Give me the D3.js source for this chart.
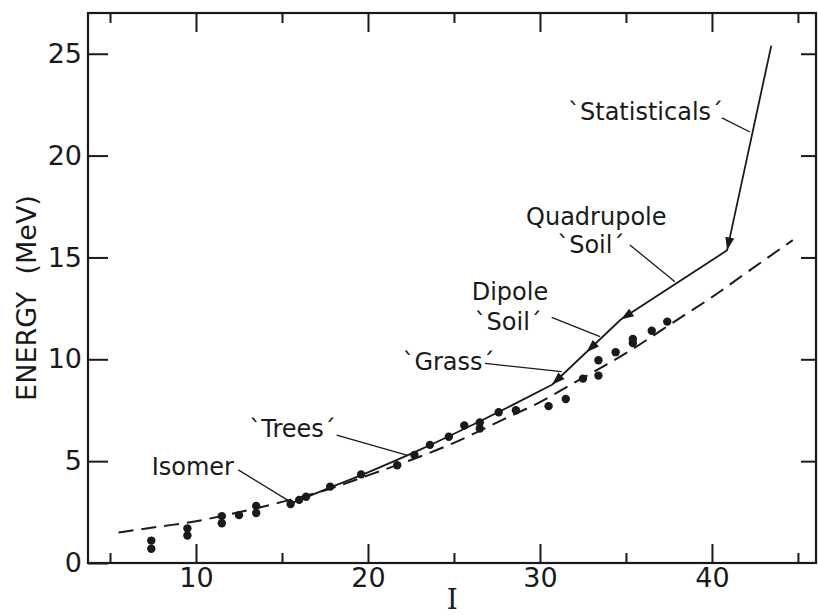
<!DOCTYPE html>
<html>
<head>
<meta charset="utf-8">
<script src="https://cdn.jsdelivr.net/npm/d3@7"></script>
<style>
body { margin: 0; background: #fff; }
text { font-family: "DejaVu Sans", sans-serif; fill: #1a1a1a; }
</style>
</head>
<body>
<svg width="818" height="615"></svg>
<script>
// axis ticks
var xMajor = [10, 20, 30, 40],
    xMinor = [5, 15, 25, 35, 45],
    yTicks = [0, 5, 10, 15, 20, 25];

// observed levels (dots)
var levelSpin   = [7.4, 7.4, 9.5, 9.5, 11.5, 11.5, 12.5, 13.5, 13.5, 15.5, 16.0, 16.4, 17.8, 19.6, 21.7, 22.7, 23.6, 24.7, 25.6, 26.5, 26.5, 27.6, 28.6, 30.5, 31.5, 32.5, 33.4, 33.4, 34.4, 35.4, 35.4, 36.5, 37.4];
var levelEnergy = [0.7, 1.1, 1.35, 1.7, 1.95, 2.3, 2.35, 2.45, 2.8, 2.9, 3.1, 3.25, 3.75, 4.35, 4.8, 5.3, 5.8, 6.2, 6.75, 6.9, 6.6, 7.4, 7.5, 7.7, 8.05, 9.05, 9.2, 9.95, 10.35, 10.8, 11.0, 11.4, 11.85];

// dashed reference curve
var dashSpin   = [5.5, 8, 10, 12, 15, 18, 20, 22, 25, 28, 30, 32, 35, 38, 40, 42, 44.7];
var dashEnergy = [1.5, 1.8, 2.05, 2.4, 3.0, 3.7, 4.3, 4.9, 5.9, 7.1, 7.9, 8.85, 10.3, 11.95, 13.05, 14.25, 15.85];

// solid yrast path, isomer up to the grass region
var yrastSpin   = [15.5, 17.5, 20, 23, 26, 28.5, 30.7];
var yrastEnergy = [2.92, 3.6, 4.45, 5.55, 6.75, 7.8, 8.75];

// decay path: statisticals -> quadrupole soil -> dipole soil -> grass
var decaySpin   = [43.45, 40.88, 34.7, 30.7];
var decayEnergy = [25.4, 15.35, 11.95, 8.75];
var arrowAt     = [1, 2, 2.5, 3];   // position along the decay path

// annotations
var labelText   = ["`Statisticals\u00b4", "Quadrupole", "`Soil\u00b4", "Dipole", "`Soil\u00b4", "`Grass\u00b4", "`Trees\u00b4", "Isomer"];
var labelSpin   = [31.63, 29.19, 31.0, 26.03, 26.2, 22.0, 13.1, 7.42];
var labelEnergy = [21.75, 16.59, 15.22, 12.91, 11.44, 9.47, 6.2, 4.32];

var leaderFromSpin   = [40.58, 35.23, 30.68, 26.8, 18.18, 12.46];
var leaderFromEnergy = [21.85, 15.61, 12.06, 9.8, 6.28, 4.57];
var leaderToSpin     = [42.21, 37.85, 33.49, 31.26, 22.25, 15.37];
var leaderToEnergy   = [21.16, 13.81, 11.11, 9.39, 5.3, 3.06];

var svg = d3.select("svg"),
    ink = "#1a1a1a";

var x = d3.scaleLinear().domain([3.72, 46.05]).range([88, 816]);
var y = d3.scaleLinear().domain([0, 27]).range([563, 13]);

// axes, ticks inward on all four sides
function clean(g) { g.select(".domain").remove(); g.selectAll("line").attr("stroke", ink).attr("stroke-width", 2); }

svg.append("g").attr("transform", "translate(0," + y(0) + ")")
   .call(d3.axisBottom(x).tickValues(xMajor).tickSize(-19).tickPadding(5).tickFormat(d3.format("d")))
   .call(clean)
   .selectAll("text").attr("font-size", 27).attr("font-family", "DejaVu Sans").attr("fill", ink);
svg.append("g").attr("transform", "translate(0," + y(0) + ")")
   .call(d3.axisBottom(x).tickValues(xMinor).tickSize(-10).tickFormat(""))
   .call(clean);
svg.append("g").attr("transform", "translate(0," + y(27) + ")")
   .call(d3.axisTop(x).tickValues(xMajor).tickSize(-19).tickFormat(""))
   .call(clean);
svg.append("g").attr("transform", "translate(0," + y(27) + ")")
   .call(d3.axisTop(x).tickValues(xMinor).tickSize(-10).tickFormat(""))
   .call(clean);
svg.append("g").attr("transform", "translate(" + x.range()[0] + ",0)")
   .call(d3.axisLeft(y).tickValues(yTicks).tickSize(-20).tickPadding(6).tickFormat(d3.format("d")))
   .call(clean)
   .selectAll("text").attr("font-size", 27).attr("font-family", "DejaVu Sans").attr("fill", ink);
svg.append("g").attr("transform", "translate(" + x.range()[1] + ",0)")
   .call(d3.axisRight(y).tickValues(yTicks.slice(1)).tickSize(-15).tickFormat(""))
   .call(clean);

svg.append("rect")
   .attr("x", x.range()[0]).attr("y", y.range()[1])
   .attr("width", x.range()[1] - x.range()[0]).attr("height", y.range()[0] - y.range()[1])
   .attr("fill", "none").attr("stroke", ink).attr("stroke-width", 2.2);

// axis titles
svg.append("text")
   .attr("transform", "translate(36," + ((y(0) + y(27)) / 2 + 10) + ")rotate(-90)")
   .attr("text-anchor", "middle")
   .attr("font-size", 27)
   .style("white-space", "pre")
   .text("ENERGY  (MeV)");

svg.append("text")
   .attr("x", x(24.9)).attr("y", 609)
   .attr("text-anchor", "middle")
   .attr("font-size", 28)
   .style("font-family", "DejaVu Serif")
   .text("I");

// dashed curve
svg.append("path")
   .datum(d3.zip(dashSpin, dashEnergy))
   .attr("fill", "none").attr("stroke", ink).attr("stroke-width", 2)
   .attr("stroke-dasharray", "15,8")
   .attr("d", d3.line().x(function(d) { return x(d[0]); }).y(function(d) { return y(d[1]); }).curve(d3.curveMonotoneX));

// yrast solid line
svg.append("path")
   .datum(d3.zip(yrastSpin, yrastEnergy))
   .attr("fill", "none").attr("stroke", ink).attr("stroke-width", 1.8)
   .attr("d", d3.line().x(function(d) { return x(d[0]); }).y(function(d) { return y(d[1]); }).curve(d3.curveMonotoneX));

// decay path
var decay = d3.zip(decaySpin, decayEnergy);
svg.append("path")
   .datum(decay)
   .attr("fill", "none").attr("stroke", ink).attr("stroke-width", 1.8)
   .attr("d", d3.line().x(function(d) { return x(d[0]); }).y(function(d) { return y(d[1]); }));

svg.append("g").selectAll("path")
   .data(arrowAt)
   .enter().append("path")
   .attr("d", "M0,0L-13,-4.5L-13,4.5Z")
   .attr("fill", ink)
   .attr("transform", function(t) {
     var i = Math.min(Math.ceil(t), decay.length - 1), a = decay[i - 1], b = decay[i], f = t - (i - 1);
     var px = x(a[0] + (b[0] - a[0]) * f), py = y(a[1] + (b[1] - a[1]) * f);
     var ang = Math.atan2(y(b[1]) - y(a[1]), x(b[0]) - x(a[0])) * 180 / Math.PI;
     return "translate(" + px + "," + py + ")rotate(" + ang + ")";
   });

// levels
svg.append("g").selectAll("circle")
   .data(d3.zip(levelSpin, levelEnergy))
   .enter().append("circle")
   .attr("cx", function(d) { return x(d[0]); })
   .attr("cy", function(d) { return y(d[1]); })
   .attr("r", 4.2)
   .attr("fill", ink);

// leader lines and labels
svg.append("g").selectAll("line")
   .data(d3.range(leaderFromSpin.length))
   .enter().append("line")
   .attr("x1", function(i) { return x(leaderFromSpin[i]); })
   .attr("y1", function(i) { return y(leaderFromEnergy[i]); })
   .attr("x2", function(i) { return x(leaderToSpin[i]); })
   .attr("y2", function(i) { return y(leaderToEnergy[i]); })
   .attr("stroke", ink).attr("stroke-width", 1.3);

svg.append("g").selectAll("text")
   .data(d3.range(labelText.length))
   .enter().append("text")
   .attr("x", function(i) { return x(labelSpin[i]); })
   .attr("y", function(i) { return y(labelEnergy[i]); })
   .attr("font-size", 24)
   .text(function(i) { return labelText[i]; });
</script>
</body>
</html>
